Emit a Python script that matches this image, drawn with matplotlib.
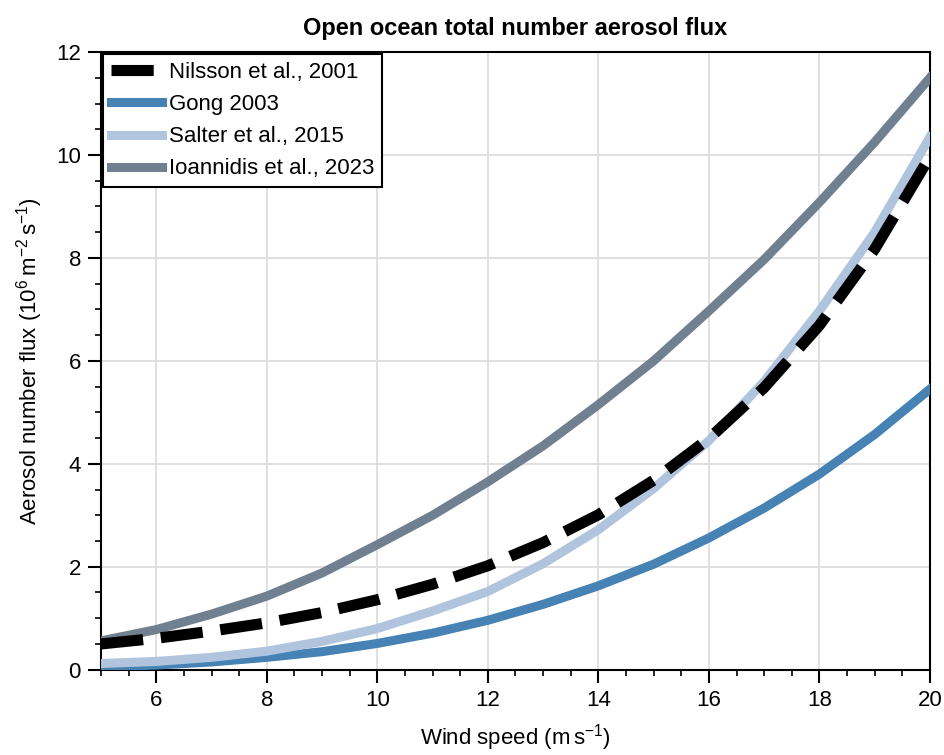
import matplotlib
matplotlib.use('Agg')
import matplotlib.pyplot as plt
from matplotlib.ticker import MultipleLocator

plt.rcParams['font.family'] = ['Liberation Sans', 'DejaVu Sans']
plt.rcParams['mathtext.default'] = 'regular'

# ---- data ----
wind_speed = [5, 6, 7, 8, 9, 10, 11, 12, 13, 14, 15, 16, 17, 18, 19, 20]
nilsson = [0.50, 0.61, 0.75, 0.91, 1.11, 1.36, 1.66, 2.02, 2.47, 3.01, 3.68, 4.49, 5.48, 6.69, 8.17, 9.97]
gong = [0.05, 0.09, 0.15, 0.24, 0.35, 0.51, 0.71, 0.96, 1.27, 1.63, 2.05, 2.56, 3.14, 3.80, 4.57, 5.45]
salter = [0.12, 0.16, 0.24, 0.36, 0.55, 0.80, 1.14, 1.52, 2.06, 2.72, 3.52, 4.45, 5.60, 6.97, 8.50, 10.35]
ioannidis = [0.56, 0.78, 1.08, 1.43, 1.88, 2.43, 3.00, 3.65, 4.35, 5.15, 6.00, 6.97, 7.97, 9.08, 10.25, 11.50]

labels = ['Nilsson et al., 2001', 'Gong 2003', 'Salter et al., 2015', 'Ioannidis et al., 2023']

fig = plt.figure(figsize=(9.45, 7.55), dpi=100)
ax = fig.add_axes([0.107, 0.113, 0.877, 0.818])

ax.plot(wind_speed, nilsson, color='black', lw=8, ls=(0, (3.8, 1.6)),
        label=labels[0], zorder=5)
ax.plot(wind_speed, gong, color='#4682B4', lw=6.5, label=labels[1], zorder=3)
ax.plot(wind_speed, salter, color='#B0C4DE', lw=6.5, label=labels[2], zorder=4)
ax.plot(wind_speed, ioannidis, color='#708090', lw=6.5, label=labels[3], zorder=3)

ax.set_xlim(5, 20)
ax.set_ylim(0, 12)
ax.xaxis.set_major_locator(MultipleLocator(2))
ax.xaxis.set_minor_locator(MultipleLocator(0.5))
ax.yaxis.set_major_locator(MultipleLocator(2))
ax.yaxis.set_minor_locator(MultipleLocator(0.5))
ax.tick_params(which='major', direction='out', length=9.5, width=1.5, labelsize=16, pad=5)
ax.tick_params(which='minor', direction='out', length=4.5, width=1.2)
ax.grid(True, which='major', color='#dddddd', lw=1.3)
ax.set_axisbelow(True)
for s in ax.spines.values():
    s.set_linewidth(1.5)

ax.set_xlabel(r'Wind speed (m$\,$s$^{-1}$)', fontsize=16, labelpad=8)
ax.set_ylabel(r'Aerosol number flux (10$^{6}\,$m$^{-2}\,$s$^{-1}$)', fontsize=16, labelpad=8)
ax.set_title('Open ocean total number aerosol flux', fontsize=17, fontweight='bold', pad=12)

leg = ax.legend(loc='upper left', fontsize=16, fancybox=False, framealpha=1,
                edgecolor='black', borderaxespad=0.1, handlelength=2.3,
                handletextpad=0.3, labelspacing=0.5, borderpad=0.35)
leg.get_frame().set_linewidth(1.5)

fig.savefig('out.png', dpi=100)
